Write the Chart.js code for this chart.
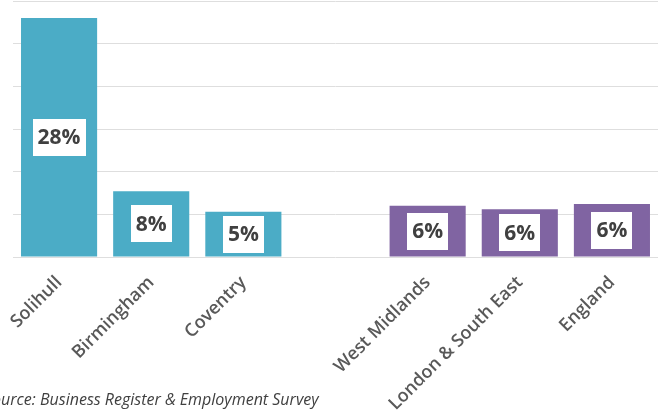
<!DOCTYPE html>
<html>
<head>
<meta charset="utf-8">
<script src="https://cdn.jsdelivr.net/npm/chart.js@4.4.1/dist/chart.umd.min.js"></script>
<style>
  html, body { margin: 0; padding: 0; background: #ffffff; }
  #wrap { width: 659px; height: 416px; position: relative; }
</style>
</head>
<body>
<div id="wrap"><canvas id="shareChart"></canvas></div>
<script>
// chart data
const categories = ['Solihull', 'Birmingham', 'Coventry', '', 'West Midlands', 'London & South East', 'England'];
const shareValues = [28, 7.7, 5.3, null, 6.0, 5.6, 6.2];
const shareLabels = ['28%', '8%', '5%', '', '6%', '6%', '6%'];
const barColours = ['#4BACC6', '#4BACC6', '#4BACC6', '#4BACC6', '#8064A2', '#8064A2', '#8064A2'];
const yTicks = [0, 5, 10, 15, 20, 25, 30];
const sourceText = 'Source: Business Register & Employment Survey';

const textColor = '#404040';

// white boxed value labels in the middle of each bar
const boxLabels = {
    id: 'boxLabels',
    afterDatasetsDraw(chart) {
        const ctx = chart.ctx;
        const meta = chart.getDatasetMeta(0);
        ctx.save();
        ctx.font = 'bold 21px "Open Sans"';
        ctx.textAlign = 'center';
        ctx.textBaseline = 'middle';
        meta.data.forEach((bar, i) => {
            const txt = shareLabels[i];
            if (!txt || shareValues[i] == null) return;
            const cx = bar.x;
            const cy = (bar.y + bar.base) / 2;
            const w = ctx.measureText(txt).width + 10;
            const h = 37;
            ctx.fillStyle = '#ffffff';
            ctx.fillRect(Math.round(cx - w / 2), Math.round(cy - h / 2), Math.round(w), h);
            ctx.fillStyle = textColor;
            ctx.fillText(txt, cx, cy + 1);
        });
        ctx.restore();
    }
};

// source note, bottom left (the "So" runs off the left edge like the original)
const sourceNote = {
    id: 'sourceNote',
    afterDraw(chart) {
        const ctx = chart.ctx;
        ctx.save();
        ctx.font = 'italic 16px "Open Sans"';
        ctx.fillStyle = textColor;
        ctx.textAlign = 'left';
        ctx.textBaseline = 'alphabetic';
        const cut = ctx.measureText('So').width;
        ctx.fillText(sourceText, -cut + 1, 405);
        ctx.restore();
    }
};

new Chart(document.getElementById('shareChart'), {
    type: 'bar',
    data: {
        labels: categories,
        datasets: [{
            data: shareValues,
            backgroundColor: barColours,
            borderWidth: 0,
            categoryPercentage: 1,
            barPercentage: 0.826
        }]
    },
    options: {
        responsive: true,
        maintainAspectRatio: false,
        animation: false,
        layout: { padding: { left: 13, right: 1, top: 1, bottom: 0 } },
        plugins: {
            legend: { display: false },
            tooltip: { enabled: false }
        },
        scales: {
            x: {
                grid: { display: false },
                border: { display: false },
                ticks: {
                    color: '#595959',
                    font: { family: '"Open Sans"', size: 18, weight: '600' },
                    maxRotation: 45,
                    minRotation: 45,
                    autoSkip: false,
                    padding: 7
                },
                afterFit(scale) { scale.height = 159; }
            },
            y: {
                min: 0,
                max: 30,
                afterBuildTicks(scale) { scale.ticks = yTicks.map(v => ({ value: v })); },
                ticks: { display: false },
                grid: { color: '#dedede', drawTicks: false, lineWidth: 1 },
                border: { display: false }
            }
        }
    },
    plugins: [boxLabels, sourceNote]
});
</script>
</body>
</html>
